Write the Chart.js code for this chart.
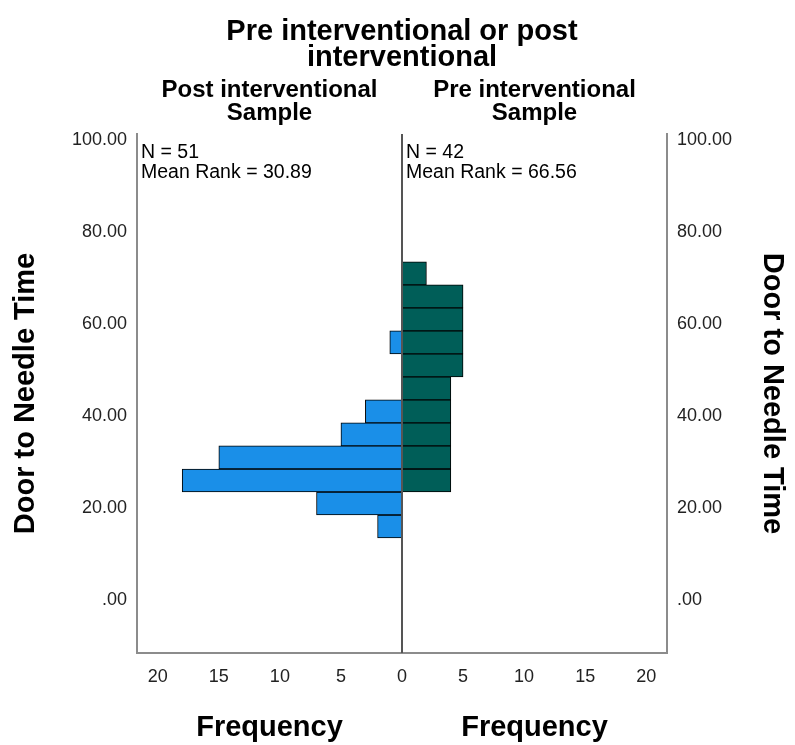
<!DOCTYPE html>
<html>
<head>
<meta charset="utf-8">
<script src="https://cdn.jsdelivr.net/npm/chart.js@4.4.0/dist/chart.umd.min.js"></script>
<style>
html, body { margin: 0; padding: 0; background: #fff; }
#wrap { width: 795px; height: 745px; position: relative; }
</style>
</head>
<body>
<div id="wrap"><canvas id="chart"></canvas></div>
<script>
const binCenters = [16, 21, 26, 31, 36, 41, 46, 51, 56, 61, 66, 71];
const postCounts = [2, 7, 18, 15, 5, 3, 0, 0, 1, 0, 0, 0];
const preCounts = [0, 0, 4, 4, 4, 4, 4, 5, 5, 5, 5, 2];
const yTicks = [0, 20, 40, 60, 80, 100];
const xTicks = [-20, -15, -10, -5, 0, 5, 10, 15, 20];
const titleLines = ["Pre interventional or post", "interventional"];
const groupLabels = [["Post interventional", "Sample"], ["Pre interventional", "Sample"]];
const groupStats = [["N = 51", "Mean Rank = 30.89"], ["N = 42", "Mean Rank = 66.56"]];
const yTitle = "Door to Needle Time";
const xTitle = "Frequency";

const FONT = '"Liberation Sans", Arial, sans-serif';
const POST_COLOR = "#1a8fe8";
const PRE_COLOR = "#005e58";

// zero counts -> no bar
function toPoints(counts, sign) {
	return counts.map((c, i) => ({ x: c ? sign * c : null, y: binCenters[i] }));
}

function fmtY(v) {
	return v === 0 ? ".00" : v.toFixed(2);
}

const decor = {
	id: "decor",
	afterDatasetsDraw(chart) {
		const { ctx, chartArea } = chart;
		const x0 = chart.scales.x.getPixelForValue(0);
		ctx.save();
		ctx.strokeStyle = "#555";
		ctx.lineWidth = 2;
		ctx.beginPath();
		ctx.moveTo(x0, chartArea.top);
		ctx.lineTo(x0, chartArea.bottom);
		ctx.stroke();
		ctx.restore();
	},
	afterDraw(chart) {
		const { ctx, chartArea } = chart;
		const xs = chart.scales.x;
		const x0 = xs.getPixelForValue(0);
		const midL = (chartArea.left + x0) / 2;
		const midR = (x0 + chartArea.right) / 2;
		const midY = (chartArea.top + chartArea.bottom) / 2;
		ctx.save();
		ctx.fillStyle = "#000";
		ctx.textBaseline = "alphabetic";

		// main title
		ctx.textAlign = "center";
		ctx.font = "bold 29px " + FONT;
		ctx.fillText(titleLines[0], x0, 40);
		ctx.fillText(titleLines[1], x0, 66);

		// panel headers
		ctx.font = "bold 24px " + FONT;
		[midL, midR].forEach((cx, i) => {
			ctx.fillText(groupLabels[i][0], cx, 97);
			ctx.fillText(groupLabels[i][1], cx, 120);
		});

		// x titles
		ctx.font = "bold 29px " + FONT;
		ctx.fillText(xTitle, midL, 736);
		ctx.fillText(xTitle, midR, 736);

		// N / mean rank
		ctx.textAlign = "left";
		ctx.font = "19.5px " + FONT;
		[chartArea.left + 4, x0 + 4].forEach((lx, i) => {
			ctx.fillText(groupStats[i][0], lx, 158);
			ctx.fillText(groupStats[i][1], lx, 178);
		});

		// y titles
		ctx.textAlign = "center";
		ctx.font = "bold 29px " + FONT;
		ctx.save();
		ctx.translate(34, midY);
		ctx.rotate(-Math.PI / 2);
		ctx.fillText(yTitle, 0, 0);
		ctx.restore();
		ctx.save();
		ctx.translate(764, midY);
		ctx.rotate(Math.PI / 2);
		ctx.fillText(yTitle, 0, 0);
		ctx.restore();

		ctx.restore();
	},
};

const yScale = (position, fit) => ({
	type: "linear",
	position,
	min: -11.5,
	max: 101.3,
	offset: false,
	afterBuildTicks: (s) => (s.ticks = yTicks.map((v) => ({ value: v }))),
	afterFit: (s) => (s.width = fit),
	grid: { display: false, drawTicks: false, offset: false },
	border: { display: true, color: "#8c8c8c", width: 2 },
	ticks: {
		padding: 10,
		color: "#222",
		font: { family: FONT, size: 18 },
		callback: (v) => fmtY(v),
	},
});

new Chart(document.getElementById("chart"), {
	type: "bar",
	data: {
		datasets: [
			{
				label: "Post interventional Sample",
				data: toPoints(postCounts, -1),
				backgroundColor: POST_COLOR,
				borderColor: "#000",
				borderWidth: 1,
				borderSkipped: false,
				grouped: false,
				barPercentage: 1,
				categoryPercentage: 1,
			},
			{
				label: "Pre interventional Sample",
				data: toPoints(preCounts, 1),
				backgroundColor: PRE_COLOR,
				borderColor: "#000",
				borderWidth: 1,
				borderSkipped: false,
				grouped: false,
				barPercentage: 1,
				categoryPercentage: 1,
			},
		],
	},
	options: {
		indexAxis: "y",
		responsive: true,
		maintainAspectRatio: false,
		animation: false,
		layout: { padding: { top: 134, left: 0, right: 0, bottom: 0 } },
		scales: {
			x: {
				type: "linear",
				min: -21.7,
				max: 21.7,
				afterBuildTicks: (s) => (s.ticks = xTicks.map((v) => ({ value: v }))),
				afterFit: (s) => (s.height = 92),
				grid: { display: false, drawTicks: false },
				border: { display: true, color: "#8c8c8c", width: 2 },
				ticks: {
					padding: 13,
					color: "#222",
					maxRotation: 0,
					font: { family: FONT, size: 18 },
					callback: (v) => String(Math.abs(v)),
				},
			},
			y: yScale("left", 137),
			y2: yScale("right", 128),
		},
		plugins: {
			legend: { display: false },
			tooltip: { enabled: false },
		},
	},
	plugins: [decor],
});
</script>
</body>
</html>
